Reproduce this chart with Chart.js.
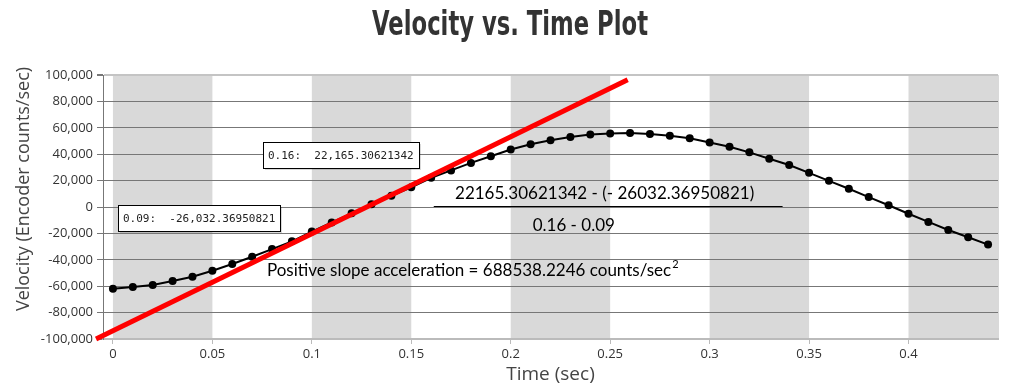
<!DOCTYPE html>
<html>
<head>
<meta charset="utf-8">
<script src="https://cdn.jsdelivr.net/npm/chart.js@4.4.0/dist/chart.umd.min.js"></script>
<style>
  body { margin: 0; background: #fff; }
</style>
</head>
<body>
<canvas id="myChart" width="1029" height="387"></canvas>
<script>
// tiempos de muestreo (sec) y velocidad (encoder counts/sec)
const times = [0, 0.01, 0.02, 0.03, 0.04, 0.05, 0.06, 0.07, 0.08, 0.09,
  0.10, 0.11, 0.12, 0.13, 0.14, 0.15, 0.16, 0.17, 0.18, 0.19,
  0.20, 0.21, 0.22, 0.23, 0.24, 0.25, 0.26, 0.27, 0.28, 0.29,
  0.30, 0.31, 0.32, 0.33, 0.34, 0.35, 0.36, 0.37, 0.38, 0.39,
  0.40, 0.41, 0.42, 0.43, 0.44];
const velocity = [-61900, -60600, -59100, -56100, -52800, -48300, -43200, -37700, -31900, -26032.36950821,
  -18600, -11700, -4800, 2000, 8500, 14900, 22165.30621342, 27700, 33400, 38500,
  43500, 47500, 50600, 53100, 54900, 55700, 56100, 55300, 54000, 52000,
  48800, 45700, 41400, 36600, 31800, 25900, 19800, 13800, 7500, 1300,
  -5100, -11300, -17400, -22900, -28500];

// recta de pendiente positiva (dibujada a mano en el original)
const slopeX = [-0.0085, 0.2588];
const slopeY = [-100000, 96400];

const xTicks = [0, 0.05, 0.1, 0.15, 0.2, 0.25, 0.3, 0.35, 0.4];
const yTicks = [-100000, -80000, -60000, -40000, -20000, 0, 20000, 40000, 60000, 80000, 100000];
const bandStarts = [0, 0.1, 0.2, 0.3, 0.4];
const bandWidth = 0.05;
const markedPoints = [9, 16];

const titleText = 'Velocity vs. Time Plot';
const numerText = '22165.30621342 - (- 26032.36950821)';
const denomText = '0.16 - 0.09';
const accelText = 'Positive slope acceleration = 688538.2246 counts/sec';

const bandsPlugin = {
  id: 'bands',
  beforeDraw(chart) {
    const { ctx, chartArea, scales } = chart;
    ctx.save();
    ctx.fillStyle = '#d9d9d9';
    bandStarts.forEach(start => {
      const x1 = scales.x.getPixelForValue(start);
      const x2 = Math.min(scales.x.getPixelForValue(start + bandWidth), chartArea.right + 1);
      ctx.fillRect(x1, chartArea.top, x2 - x1, chartArea.bottom - chartArea.top);
    });
    ctx.restore();
  }
};

const notesPlugin = {
  id: 'notes',
  afterDraw(chart) {
    const { ctx, scales } = chart;
    const x = scales.x, y = scales.y;
    ctx.save();

    // titulo (fuente condensada a mano, no hay Impact)
    ctx.save();
    ctx.font = 'bold 33px "DejaVu Sans"';
    const tw = ctx.measureText(titleText).width;
    const sx = 276 / tw;
    ctx.translate(510, 35);
    ctx.scale(sx, 1);
    ctx.fillStyle = '#333';
    ctx.textAlign = 'center';
    ctx.textBaseline = 'alphabetic';
    ctx.fillText(titleText, 0, 0);
    ctx.restore();

    // titulo eje y
    ctx.save();
    ctx.translate(24, 189);
    ctx.rotate(-Math.PI / 2);
    ctx.font = '18px "Open Sans"';
    ctx.fillStyle = '#444';
    ctx.textAlign = 'center';
    ctx.textBaseline = 'middle';
    ctx.fillText('Velocity (Encoder counts/sec)', 0, 0);
    ctx.restore();

    // formula
    ctx.fillStyle = '#000';
    ctx.font = '17px Lato';
    ctx.textBaseline = 'middle';
    ctx.textAlign = 'center';
    ctx.fillText(numerText, x.getPixelForValue(0.2472), y.getPixelForValue(9870));
    ctx.fillText(denomText, x.getPixelForValue(0.2317), y.getPixelForValue(-13660));
    ctx.strokeStyle = '#000';
    ctx.lineWidth = 1;
    ctx.beginPath();
    const ly = Math.round(y.getPixelForValue(760)) + 0.5;
    ctx.moveTo(x.getPixelForValue(0.1613), ly);
    ctx.lineTo(x.getPixelForValue(0.3367), ly);
    ctx.stroke();

    ctx.textAlign = 'left';
    const ax = x.getPixelForValue(0.0774);
    const ay = y.getPixelForValue(-47800);
    ctx.fillText(accelText, ax, ay);
    const w = ctx.measureText(accelText).width;
    ctx.font = '11px Lato';
    ctx.fillText('2', ax + w + 1, ay - 6);

    // cajas de los puntos marcados
    ctx.font = '11px "DejaVu Sans Mono"';
    markedPoints.forEach(i => {
      const label = times[i].toFixed(2) + ':  ' +
        velocity[i].toLocaleString('en-US', { maximumFractionDigits: 8 });
      const px = x.getPixelForValue(times[i]);
      const py = y.getPixelForValue(velocity[i]);
      const bw = Math.round(ctx.measureText(label).width + 10);
      const bh = 26;
      const right = Math.round(px - 12);
      const bottom = Math.round(py - 10);
      const left = right - bw, top = bottom - bh;
      ctx.fillStyle = 'rgba(0,0,0,0.15)';
      ctx.fillRect(left + 2, top + 2, bw, bh);
      ctx.fillStyle = '#fff';
      ctx.fillRect(left, top, bw, bh);
      ctx.strokeStyle = '#000';
      ctx.strokeRect(left + 0.5, top + 0.5, bw, bh);
      ctx.fillStyle = '#222';
      ctx.fillText(label, left + 5, top + bh / 2 + 1);
    });
    ctx.restore();
  }
};

const ctx = document.getElementById('myChart').getContext('2d');
const myChart = new Chart(ctx, {
  type: 'line',
  data: {
    datasets: [{
      label: 'Slope',
      data: slopeX.map((t, i) => ({ x: t, y: slopeY[i] })),
      borderColor: '#ff0000',
      borderWidth: 5,
      pointRadius: 0,
      clip: false
    }, {
      label: 'Velocity',
      data: times.map((t, i) => ({ x: t, y: velocity[i] })),
      borderColor: '#000',
      backgroundColor: '#000',
      borderWidth: 2,
      pointRadius: 4,
      pointBorderWidth: 0,
      pointBackgroundColor: '#000'
    }]
  },
  options: {
    responsive: false,
    animation: false,
    layout: { padding: { top: 75, right: 31 } },
    plugins: {
      legend: { display: false },
      tooltip: { enabled: false },
      title: { display: false }
    },
    scales: {
      x: {
        type: 'linear',
        min: -0.005,
        max: 0.445,
        afterFit: scale => { scale.height = 48; },
        afterBuildTicks: scale => { scale.ticks = xTicks.map(v => ({ value: v })); },
        grid: { drawOnChartArea: false, drawTicks: true, tickLength: 5, tickColor: '#bbb' },
        border: { color: '#bbb', width: 2 },
        ticks: {
          color: '#333',
          font: { family: '"Open Sans"', size: 13 },
          padding: 2,
          maxRotation: 0,
          callback: v => String(v)
        },
        title: {
          display: true,
          text: 'Time (sec)',
          color: '#444',
          font: { family: '"Open Sans"', size: 19, lineHeight: 1.2 },
          padding: { top: 0, bottom: 1 }
        }
      },
      y: {
        min: -100000,
        max: 100000,
        afterFit: scale => { scale.width = 103; },
        afterBuildTicks: scale => { scale.ticks = yTicks.map(v => ({ value: v })); },
        grid: {
          color: c => (c.tick && c.tick.value === 100000) ? '#c4c4c4' : '#777',
          lineWidth: c => (c.tick && c.tick.value === 100000) ? 2 : 1,
          tickColor: '#777',
          tickLength: 6
        },
        border: { color: '#777', width: 1 },
        ticks: {
          color: '#333',
          font: { family: '"Open Sans"', size: 13 },
          padding: 4,
          callback: v => v.toLocaleString('en-US')
        }
      }
    }
  },
  plugins: [bandsPlugin, notesPlugin]
});
</script>
</body>
</html>
